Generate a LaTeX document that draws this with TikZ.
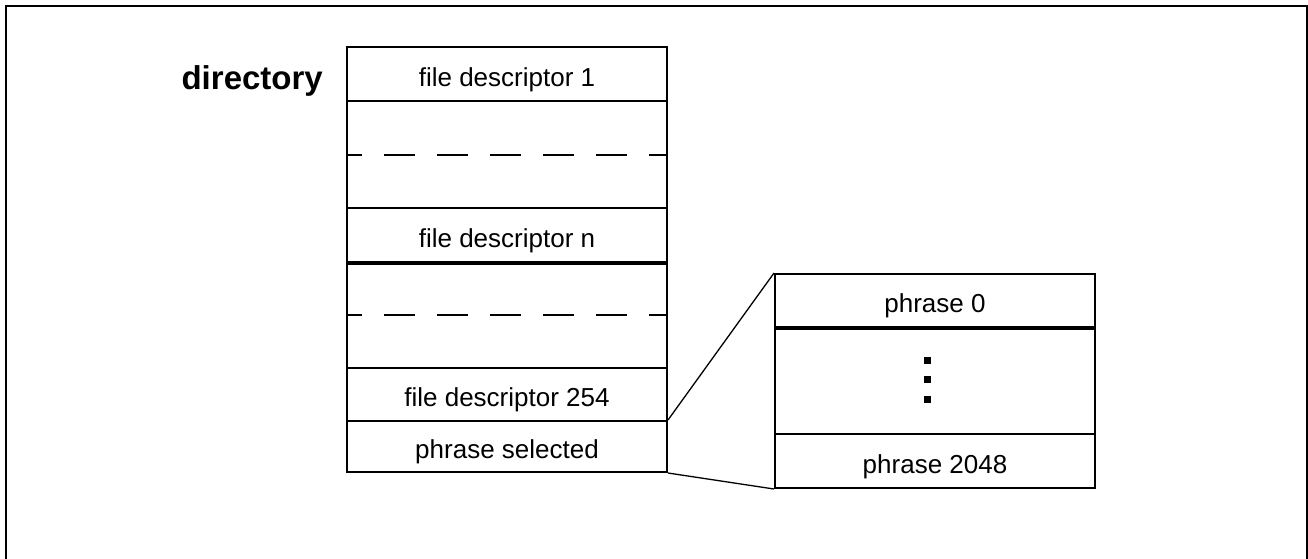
\documentclass[tikz,border=0pt]{standalone}
\usepackage{fontspec}
\setmainfont{Liberation Sans}
\begin{document}
\begin{tikzpicture}[x=1pt,y=-1pt,
  cell/.style={draw, line width=2pt, inner sep=0pt, minimum width=320pt},
  celltext/.style={font=\fontsize{26}{30}\selectfont, inner sep=0pt, anchor=base},
  thick sep/.style={line width=3.2pt},
  dashsep/.style={line width=2pt, dash pattern=on 31pt off 22pt, dash phase=15pt},
  zoomline/.style={line width=1.3pt},
  dotsq/.style={fill, minimum size=7pt, inner sep=0pt}]
\useasboundingbox (0,0) rectangle (1308,558);
% outer frame (open at bottom)
\draw[line width=2.2pt] (6,570) -- (6,6) -- (1307,6) -- (1307,570);
% directory label
\node[anchor=base east, font=\fontsize{33}{38}\bfseries, inner sep=0pt] (dir) at (323,89) {directory};
% left table
\node[cell, minimum height=54pt]  (fd1)   at (507,74)    {};
\node[cell, minimum height=107pt] (gap1)  at (507,154.5) {};
\node[cell, minimum height=54pt]  (fdn)   at (507,235)   {};
\node[cell, minimum height=106pt] (gap2)  at (507,315)   {};
\node[cell, minimum height=53pt]  (fd254) at (507,394.5) {};
\node[cell, minimum height=51pt]  (sel)   at (507,446.5) {};
\node[celltext] (t1)   at ([yshift=-12pt]fd1.center)   {file descriptor 1};
\node[celltext] (tn)   at ([yshift=-12pt]fdn.center)   {file descriptor n};
\node[celltext] (t254) at ([yshift=-12pt]fd254.center) {file descriptor 254};
\node[celltext] (tsel) at ([yshift=-12pt]sel.center)   {phrase selected};
\draw[thick sep] (fdn.south west) -- (fdn.south east);
\draw[dashsep] (gap1.west) -- (gap1.east);
\draw[dashsep] (gap2.west) -- (gap2.east);
% right table
\node[cell, minimum height=53pt]  (p0)    at (935,300.5) {};
\node[cell, minimum height=107pt] (mid)   at (935,380.5) {};
\node[cell, minimum height=54pt]  (p2048) at (935,461)   {};
\node[celltext] (tp0)    at ([yshift=-12pt]p0.center)    {phrase 0};
\node[celltext] (tp2048) at ([yshift=-12pt]p2048.center) {phrase 2048};
\draw[thick sep] (p0.south west) -- (p0.south east);
\node[dotsq] (d1) at (927,360) {};
\node[dotsq] (d2) at (927,379.5) {};
\node[dotsq] (d3) at (927,399) {};
% zoom connectors
\draw[zoomline] (sel.north east) -- (p0.north west);
\draw[zoomline] (sel.south east) -- (p2048.south west);
\end{tikzpicture}
\end{document}
